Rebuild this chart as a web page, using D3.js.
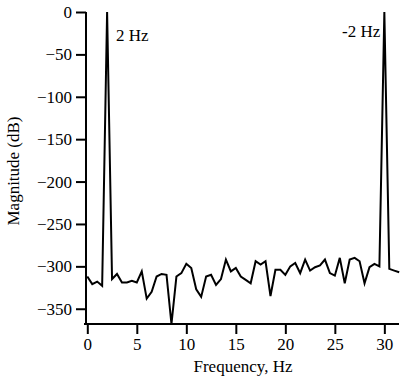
<!DOCTYPE html>
<html>
<head>
<meta charset="utf-8">
<script src="https://cdn.jsdelivr.net/npm/d3@7"></script>
<style>
  body { margin: 0; background: #fff; }
  svg text { font-family: "Liberation Serif", "Times New Roman", serif; }
</style>
</head>
<body>
<div id="chart"></div>
<script>
// sample frequencies (Hz), 0.5 Hz spacing
const freqs = [
  0, 0.5, 1, 1.5, 2, 2.5, 3, 3.5, 4, 4.5, 5, 5.5, 6, 6.5, 7, 7.5,
  8, 8.5, 9, 9.5, 10, 10.5, 11, 11.5, 12, 12.5, 13, 13.5, 14, 14.5, 15, 15.5,
  16, 16.5, 17, 17.5, 18, 18.5, 19, 19.5, 20, 20.5, 21, 21.5, 22, 22.5, 23, 23.5,
  24, 24.5, 25, 25.5, 26, 26.5, 27, 27.5, 28, 28.5, 29, 29.5, 30, 30.5, 31, 31.5
];
// magnitude in dB
const magnitudes = [
  -312, -321, -318, -323, 0, -315, -309, -319, -319, -317, -319, -306, -338, -330, -312, -309,
  -310, -368, -312, -308, -297, -302, -327, -336, -312, -310, -322, -315, -292, -306, -302, -312,
  -316, -320, -294, -298, -294, -335, -304, -304, -310, -300, -296, -308, -292, -305, -301, -299,
  -292, -308, -311, -290, -320, -292, -290, -294, -320, -301, -297, -300, 0, -303, -305, -307
];
const xTicks = [0, 5, 10, 15, 20, 25, 30];
const yTicks = [0, -50, -100, -150, -200, -250, -300, -350];
const peakLabels = [
  { f: 2, text: "2 Hz", anchor: "start" },
  { f: 30, text: "-2 Hz", anchor: "end" }
];

const width = 400, height = 378;
const fontSize = 17;

const svg = d3.select("#chart")
  .append("svg")
  .attr("width", width)
  .attr("height", height);

const scaleX = d3.scaleLinear().domain([0, 31.5]).range([87.3, 399.2]);
const scaleY = d3.scaleLinear().domain([-368, 0]).range([324, 12]);

// x axis
const axisX = svg.append("g")
  .attr("transform", `translate(0, 324)`)
  .call(d3.axisBottom(scaleX).tickValues(xTicks).tickSize(10).tickSizeOuter(0).tickPadding(4));

// y axis
const axisY = svg.append("g")
  .attr("transform", `translate(86, 0)`)
  .call(d3.axisLeft(scaleY).tickValues(yTicks).tickSize(10).tickSizeOuter(0).tickPadding(4));

[axisX, axisY].forEach((g) => {
  g.select(".domain").attr("stroke", "#000").attr("stroke-width", 2);
  g.selectAll(".tick line").attr("stroke", "#000").attr("stroke-width", 2);
  g.selectAll(".tick text")
    .attr("fill", "#000")
    .style("font-family", '"Liberation Serif", serif')
    .style("font-size", fontSize + "px");
});
axisX.select(".domain").attr("d", "M84,0H399");
axisY.select(".domain").attr("d", "M0,12V325");

// titles
svg.append("text")
  .attr("x", 243)
  .attr("y", 372)
  .attr("text-anchor", "middle")
  .attr("font-size", fontSize)
  .text("Frequency, Hz");

svg.append("text")
  .attr("transform", "translate(19, 171) rotate(-90)")
  .attr("text-anchor", "middle")
  .attr("font-size", fontSize)
  .text("Magnitude (dB)");

// spectrum line
const data = freqs.map((f, i) => ({ f, m: magnitudes[i] }));
const line = d3.line()
  .x((d) => scaleX(d.f))
  .y((d) => scaleY(d.m));

svg.append("path")
  .datum(data)
  .attr("fill", "none")
  .attr("stroke", "#000")
  .attr("stroke-width", 2)
  .attr("stroke-linejoin", "miter")
  .attr("d", line);

// peak labels
svg.selectAll(".peakLabel")
  .data(peakLabels)
  .join("text")
  .attr("class", "peakLabel")
  .attr("x", (d) => scaleX(d.f) + (d.anchor === "start" ? 9 : -4))
  .attr("y", (d) => (d.anchor === "start" ? 41 : 37))
  .attr("text-anchor", (d) => d.anchor)
  .attr("font-size", fontSize)
  .text((d) => d.text);
</script>
</body>
</html>
